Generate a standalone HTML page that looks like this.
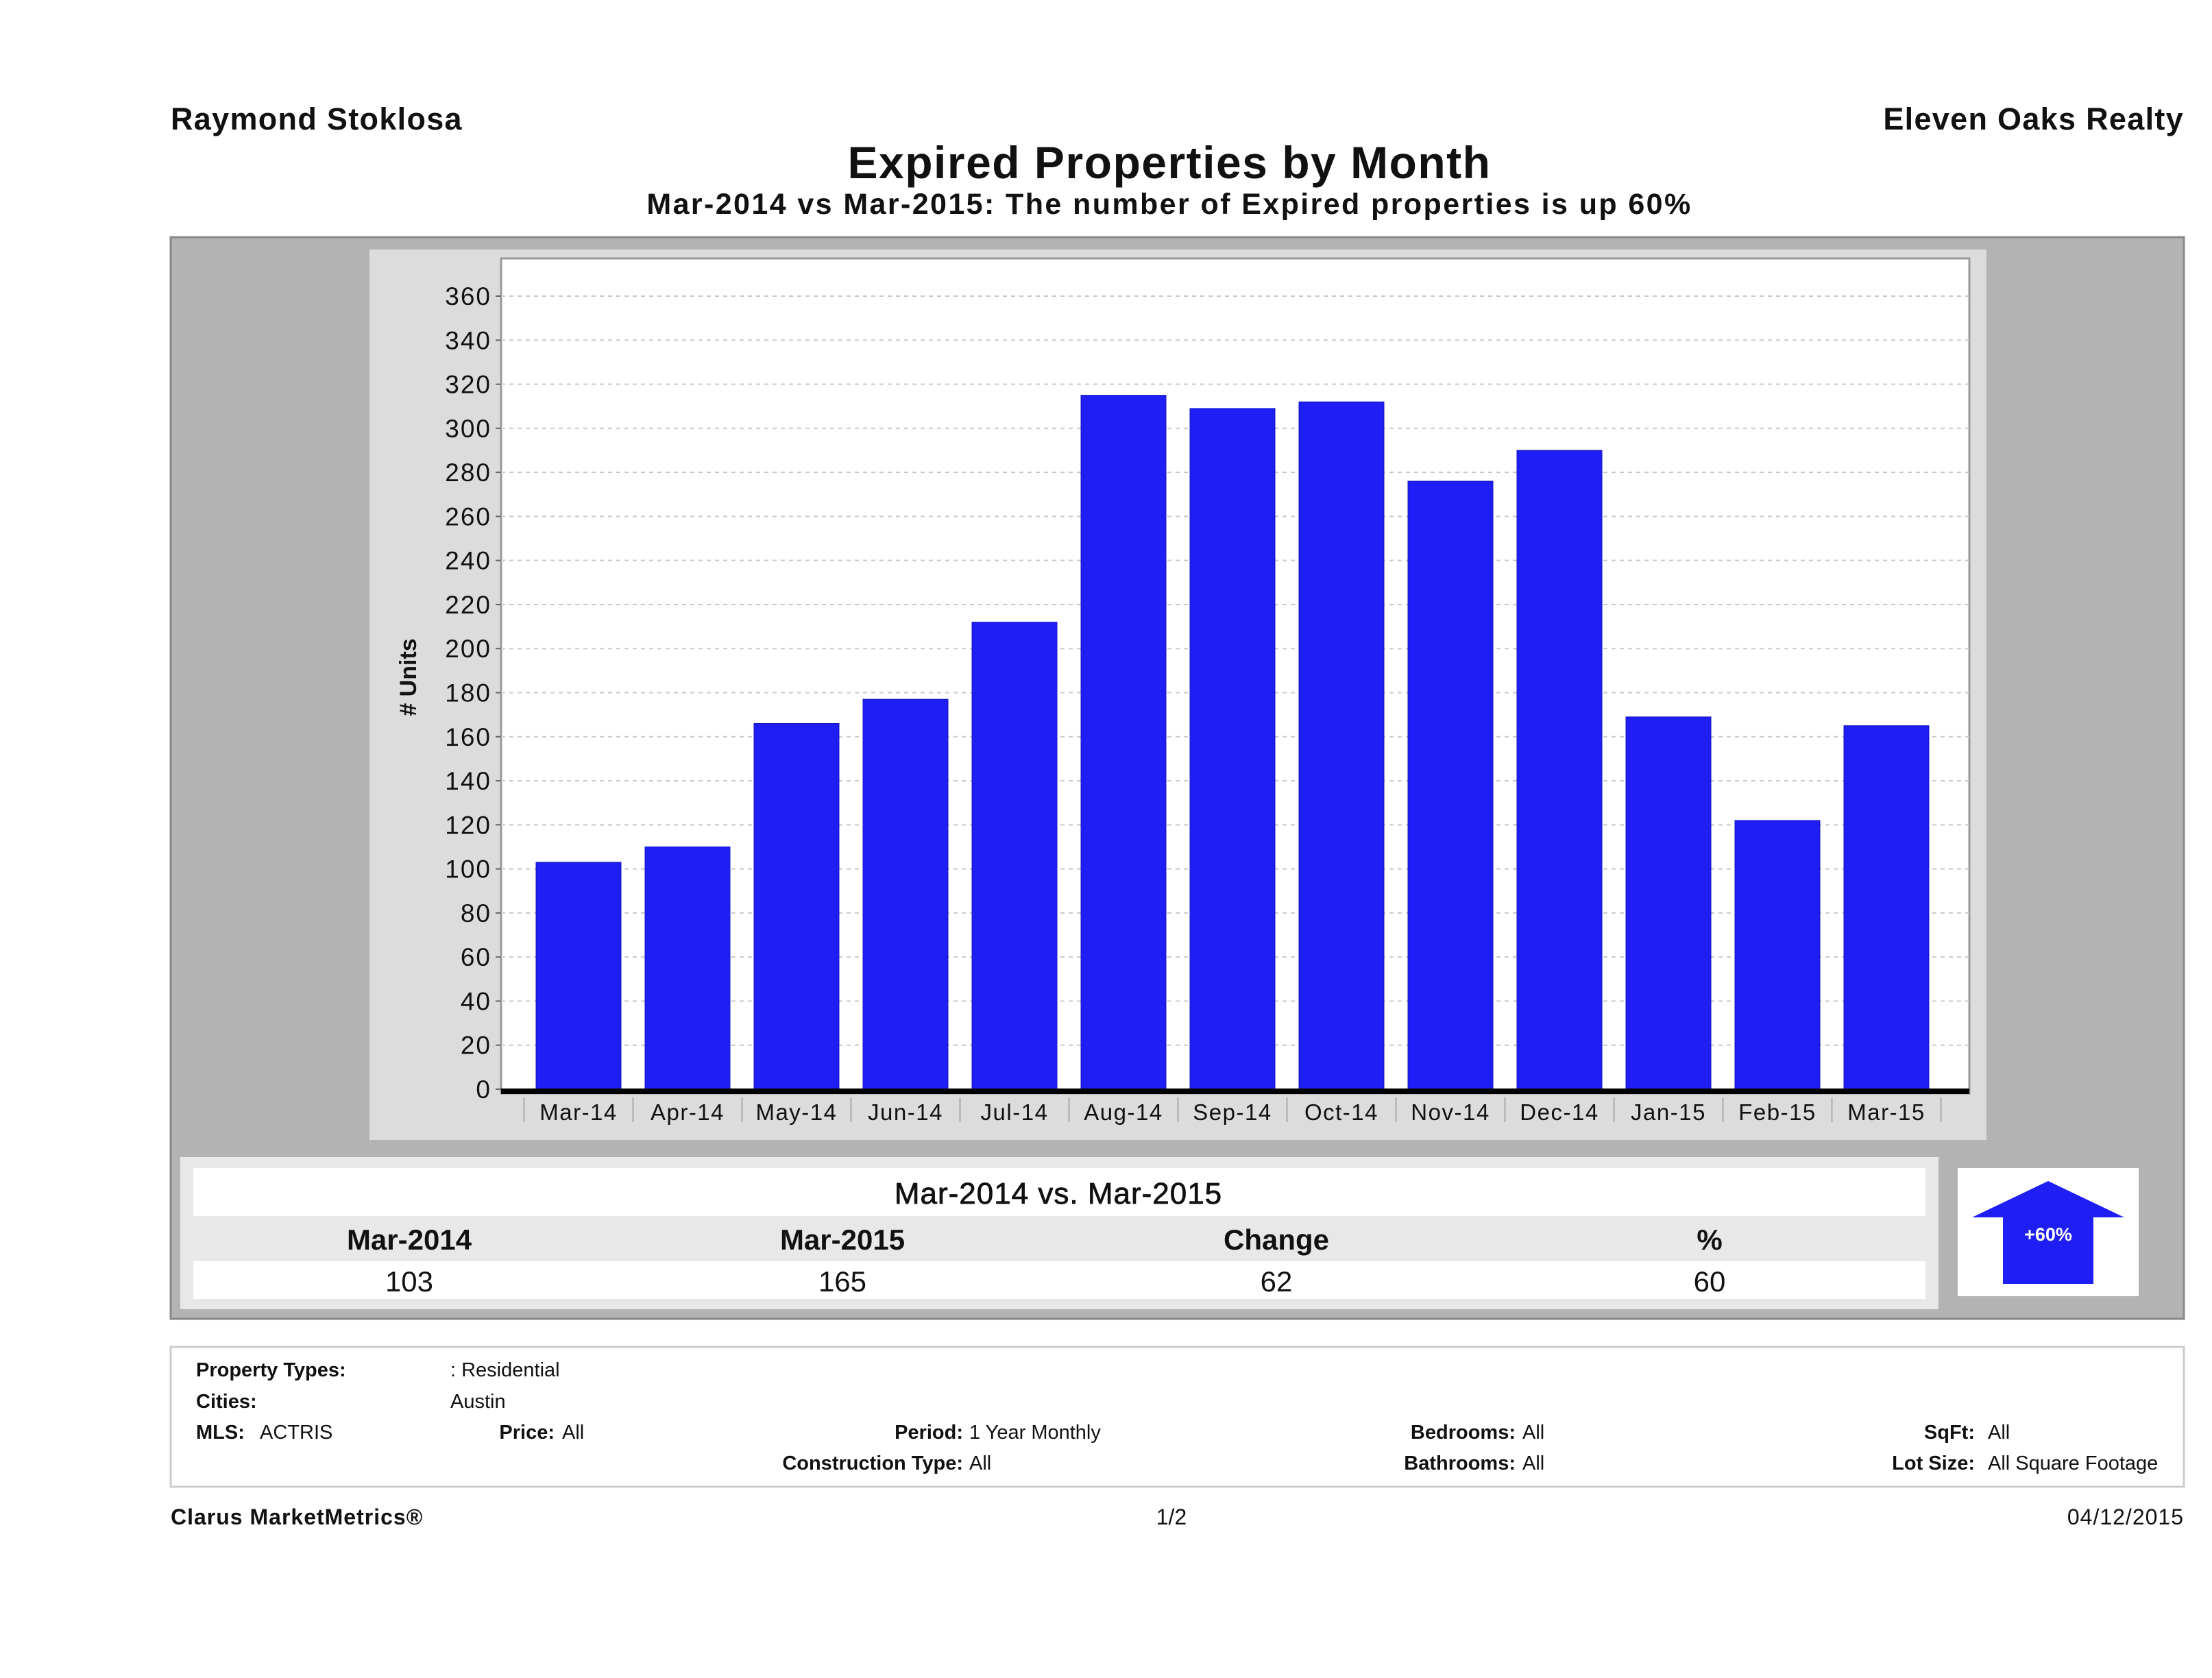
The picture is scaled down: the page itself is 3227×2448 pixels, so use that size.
<!DOCTYPE html>
<html><head><meta charset="utf-8"><style>
html,body{margin:0;padding:0;background:#fff;}
svg{display:block;font-family:"Liberation Sans",sans-serif;}
</style></head><body>
<svg id="chart" width="3227" height="2448" viewBox="0 0 3227 2448" xmlns="http://www.w3.org/2000/svg">
<text x="249" y="189" font-size="45" font-weight="bold" fill="#111" letter-spacing="1.3">Raymond Stoklosa</text>
<text x="3186" y="189" font-size="45" font-weight="bold" fill="#111" text-anchor="end" letter-spacing="1.3">Eleven Oaks Realty</text>
<text x="1706" y="260" font-size="66" font-weight="bold" fill="#111" text-anchor="middle" letter-spacing="1.5">Expired Properties by Month</text>
<text x="1706" y="312" font-size="43" font-weight="bold" fill="#111" text-anchor="middle" letter-spacing="2.4">Mar-2014 vs Mar-2015: The number of Expired  properties is up 60%</text>
<rect x="249" y="346" width="2937" height="1578" fill="#b3b3b3" stroke="#888" stroke-width="3"/>
<rect x="539" y="364" width="2359" height="1299" fill="#dcdcdc"/>
<rect x="731" y="377" width="2142" height="1218" fill="#fff" stroke="#999" stroke-width="3"/>
<g id="grid"></g>
<g id="bars"></g>
<g id="yaxis"></g>
<g id="xaxis"></g>
<text transform="translate(607,988) rotate(-90)" font-size="34" font-weight="bold" fill="#111" text-anchor="middle"># Units</text>

<rect x="263" y="1688" width="2565" height="222" fill="#e8e8e8"/>
<rect x="282" y="1704" width="2527" height="70" fill="#fff"/>
<text x="1544" y="1756" font-size="44" fill="#111" text-anchor="middle" stroke="#111" stroke-width="0.8" letter-spacing="1">Mar-2014 vs. Mar-2015</text>
<rect x="282" y="1840" width="2527" height="55" fill="#fff"/>
<g font-size="42" fill="#111" text-anchor="middle">
<text x="597" y="1823" font-weight="bold">Mar-2014</text>
<text x="1229" y="1823" font-weight="bold">Mar-2015</text>
<text x="1862" y="1823" font-weight="bold">Change</text>
<text x="2494" y="1823" font-weight="bold">%</text>
<text x="597" y="1884">103</text>
<text x="1229" y="1884">165</text>
<text x="1862" y="1884">62</text>
<text x="2494" y="1884">60</text>
</g>
<rect x="2856" y="1704" width="264" height="187" fill="#fff"/>
<polygon points="2988,1723 3099,1776 3054,1776 3054,1873 2922,1873 2922,1776 2877,1776" fill="#1e1ef5"/>
<text x="2988" y="1810" font-size="27" font-weight="bold" fill="#fff" text-anchor="middle">+60%</text>

<rect x="249" y="1965" width="2937" height="204" fill="#fff" stroke="#ccc" stroke-width="3"/>
<g font-size="29" fill="#111">
<text x="286" y="2008" font-weight="bold">Property Types:</text>
<text x="657" y="2008">: Residential</text>
<text x="286" y="2054" font-weight="bold">Cities:</text>
<text x="657" y="2054">Austin</text>
<text x="286" y="2099" font-weight="bold">MLS:</text>
<text x="379" y="2099">ACTRIS</text>
<text x="809" y="2099" font-weight="bold" text-anchor="end">Price:</text>
<text x="820" y="2099">All</text>
<text x="1405" y="2099" font-weight="bold" text-anchor="end">Period:</text>
<text x="1414" y="2099">1 Year Monthly</text>
<text x="1405" y="2144" font-weight="bold" text-anchor="end">Construction Type:</text>
<text x="1414" y="2144">All</text>
<text x="2211" y="2099" font-weight="bold" text-anchor="end">Bedrooms:</text>
<text x="2221" y="2099">All</text>
<text x="2211" y="2144" font-weight="bold" text-anchor="end">Bathrooms:</text>
<text x="2221" y="2144">All</text>
<text x="2881" y="2099" font-weight="bold" text-anchor="end">SqFt:</text>
<text x="2900" y="2099">All</text>
<text x="2881" y="2144" font-weight="bold" text-anchor="end">Lot Size:</text>
<text x="2900" y="2144">All Square Footage</text>
</g>
<text x="249" y="2224" font-size="32" font-weight="bold" fill="#111" letter-spacing="1">Clarus MarketMetrics®</text>
<text x="1709" y="2224" font-size="32" fill="#111" text-anchor="middle">1/2</text>
<text x="3186" y="2224" font-size="32" fill="#111" text-anchor="end" letter-spacing="1">04/12/2015</text>
</svg>
<script>
const categories = ["Mar-14","Apr-14","May-14","Jun-14","Jul-14","Aug-14","Sep-14","Oct-14","Nov-14","Dec-14","Jan-15","Feb-15","Mar-15"];
const expiredCounts = [103,110,166,177,212,315,309,312,276,290,169,122,165];
const yTicks = [0,20,40,60,80,100,120,140,160,180,200,220,240,260,280,300,320,340,360];

const NS = "http://www.w3.org/2000/svg";
const plotL = 731, plotR = 2873, y0px = 1589, y360px = 432;
const bandStart = 764.5, band = 159, barW = 124;
function yScale(v){ return y0px - (v/360)*(y0px - y360px); }
function xCenter(i){ return bandStart + band*i + band/2; }
function mk(tag, attrs, parent){
  const e = document.createElementNS(NS, tag);
  for (const k in attrs) e.setAttribute(k, attrs[k]);
  parent.appendChild(e); return e;
}
const grid = document.getElementById('grid'), bars = document.getElementById('bars');
const yaxis = document.getElementById('yaxis'), xaxis = document.getElementById('xaxis');

yTicks.forEach(t => {
  const y = yScale(t);
  if (t > 0) {
    const g = mk('line', {x1:plotL, x2:plotR, y1:y, y2:y, stroke:'#c8c8c8', 'stroke-width':2, 'stroke-dasharray':'6,6'}, grid);
    
    
  }
  const tk = mk('line', {x1:plotL-8, x2:plotL, y1:y, y2:y, stroke:'#666', 'stroke-width':2}, yaxis);
  
  
  const lb = mk('text', {x:plotL-14, y:y+13, 'font-size':37, fill:'#111', 'text-anchor':'end', 'letter-spacing':2}, yaxis);
  lb.textContent = t;
  
  
});

expiredCounts.forEach((v,i) => {
  const y = yScale(v);
  const r = mk('rect', {x:xCenter(i)-barW/2, y:y, width:barW, height:y0px-y, fill:'#1e1ef5', stroke:'#1515c0', 'stroke-width':1}, bars);
  
  
});

const axisLine = mk('line', {x1:plotL, x2:plotR, y1:y0px+3, y2:y0px+3, stroke:'#000', 'stroke-width':8}, xaxis);


for (let i = 0; i <= categories.length; i++) {
  const x = bandStart + band*i;
  const s = mk('line', {x1:x, x2:x, y1:y0px+12, y2:y0px+48, stroke:'#aaa', 'stroke-width':2}, xaxis);
  
  
}
categories.forEach((c,i) => {
  const t = mk('text', {x:xCenter(i), y:1634, 'font-size':33, fill:'#111', 'text-anchor':'middle', 'letter-spacing':1.5}, xaxis);
  t.textContent = c;
  
  
});
</script>
</body></html>
